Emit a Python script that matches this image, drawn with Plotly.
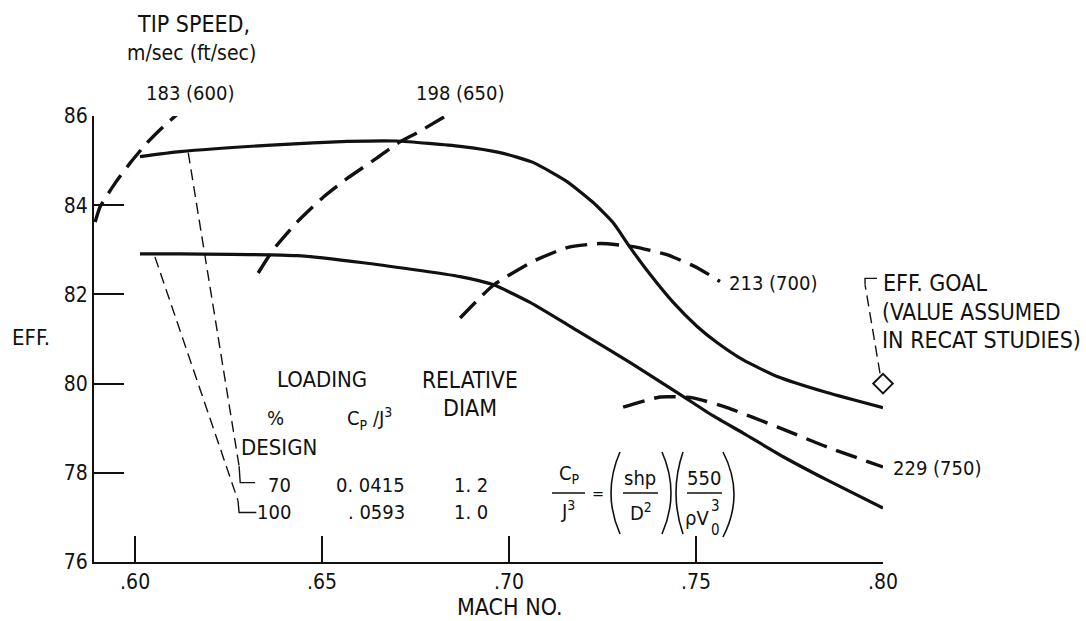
import plotly.graph_objects as go

# ---------------- data ----------------
# Efficiency curves (solid) by loading
mach_load70 = [0.6013, 0.612, 0.6388, 0.6567, 0.670, 0.6869, 0.6976, 0.7064, 0.7155, 0.7225,
               0.7278, 0.7324, 0.7377, 0.7439, 0.7503, 0.7556, 0.7626, 0.7717, 0.785, 0.80]
eff_load70 = [85.09, 85.20, 85.36, 85.43, 85.44, 85.32, 85.18, 84.96, 84.53, 84.06,
              83.61, 83.05, 82.45, 81.82, 81.28, 80.92, 80.53, 80.16, 79.80, 79.46]

mach_load100 = [0.6013, 0.612, 0.6433, 0.661, 0.6869, 0.6957, 0.7056, 0.719, 0.7324, 0.7457,
                0.7545, 0.7626, 0.7733, 0.785, 0.80]
eff_load100 = [82.91, 82.91, 82.87, 82.71, 82.40, 82.22, 81.82, 81.15, 80.47, 79.76,
               79.28, 78.89, 78.36, 77.84, 77.21]

# Tip-speed curves (dashed)
mach_ts183 = [0.5893, 0.5906, 0.5947, 0.5987, 0.6032, 0.6075, 0.6128]
eff_ts183 = [83.62, 83.96, 84.50, 84.95, 85.40, 85.76, 86.15]

mach_ts198 = [0.6329, 0.6369, 0.6433, 0.6503, 0.6567, 0.6647, 0.670, 0.6762, 0.685]
eff_ts198 = [82.48, 83.00, 83.62, 84.18, 84.60, 85.06, 85.38, 85.66, 86.10]

mach_ts213 = [0.6869, 0.6957, 0.7064, 0.7155, 0.7243, 0.7332, 0.7422, 0.7503, 0.7564]
eff_ts213 = [81.47, 82.20, 82.74, 83.05, 83.14, 83.07, 82.89, 82.60, 82.29]

mach_ts229 = [0.7305, 0.7404, 0.7492, 0.7583, 0.7717, 0.785, 0.80]
eff_ts229 = [79.47, 79.70, 79.68, 79.46, 79.03, 78.58, 78.13]

# Efficiency goal
mach_goal = [0.80]
eff_goal = [80.0]

# Leader lines (dashed part) and their end hooks
mach_lead70 = [0.6142, 0.6278]
eff_lead70 = [85.18, 78.15]
mach_hook70 = [0.6278, 0.6281, 0.6321]
eff_hook70 = [78.15, 77.78, 77.78]
mach_lead100 = [0.6053, 0.6275]
eff_lead100 = [82.84, 77.38]
mach_hook100 = [0.6275, 0.6278, 0.6324]
eff_hook100 = [77.38, 77.11, 77.11]
mach_leadgoal = [0.7992, 0.7952]
eff_leadgoal = [80.23, 82.22]
mach_hookgoal = [0.7952, 0.7952, 0.7984]
eff_hookgoal = [82.22, 82.36, 82.36]

# Axis ticks
x_tickvals = [0.60, 0.65, 0.70, 0.75, 0.80]
x_ticktext = [".60", ".65", ".70", ".75", ".80"]
y_tickvals = [76, 78, 80, 82, 84, 86]
y_ticktext = ["76", "78", "80", "82", "84", "86"]

# Legend-table text
load_pct = ["70", "100"]
load_cpj3 = ["0. 0415", ". 0593"]
rel_diam = ["1. 2", "1. 0"]

# ---------------- figure ----------------
FONT = "DejaVu Sans Condensed, Liberation Sans Narrow, Arial Narrow, sans-serif"
BLACK = "#111111"
L, R, T, B = 94, 203, 116, 59
W, H = 1086, 621
PW, PH = W - L - R, H - T - B


def px2paper(px, py):
    return (px - L) / PW, (H - B - py) / PH


def dx(px):
    return 0.589 + (px - L) / PW * (0.80 - 0.589)


def dy(py):
    return 76 + (H - B - py) / PH * 10


fig = go.Figure()

solid = dict(color=BLACK, width=3.2, shape="spline", smoothing=0.5)
dashed = dict(color=BLACK, width=3.4, dash="22px,10px", shape="spline", smoothing=0.5)
thin = dict(color=BLACK, width=1.4, dash="11px,6px")
thin_solid = dict(color=BLACK, width=1.4)

for mx, ey in [(mach_load70, eff_load70), (mach_load100, eff_load100)]:
    fig.add_trace(go.Scatter(x=mx, y=ey, mode="lines", line=solid, cliponaxis=False, hoverinfo="skip"))
for mx, ey in [(mach_ts183, eff_ts183), (mach_ts198, eff_ts198),
               (mach_ts213, eff_ts213), (mach_ts229, eff_ts229)]:
    fig.add_trace(go.Scatter(x=mx, y=ey, mode="lines", line=dashed, cliponaxis=False, hoverinfo="skip"))
for mx, ey in [(mach_lead70, eff_lead70), (mach_lead100, eff_lead100), (mach_leadgoal, eff_leadgoal)]:
    fig.add_trace(go.Scatter(x=mx, y=ey, mode="lines", line=thin, cliponaxis=False, hoverinfo="skip"))
for mx, ey in [(mach_hook70, eff_hook70), (mach_hook100, eff_hook100), (mach_hookgoal, eff_hookgoal)]:
    fig.add_trace(go.Scatter(x=mx, y=ey, mode="lines", line=thin_solid, cliponaxis=False, hoverinfo="skip"))

fig.add_trace(go.Scatter(x=mach_goal, y=eff_goal, mode="markers", cliponaxis=False, hoverinfo="skip",
                         marker=dict(symbol="diamond-open", size=15, color=BLACK,
                                     line=dict(color=BLACK, width=2))))

annotations = []


def txt(text, px, py, size=20, xanchor="center"):
    x, y = px2paper(px, py)
    annotations.append(dict(text=text, x=x, y=y, xref="paper", yref="paper",
                            showarrow=False, xanchor=xanchor, yanchor="middle",
                            font=dict(family=FONT, size=size, color=BLACK)))


txt("TIP SPEED,", 193, 24, size=23)
txt("m/sec (ft/sec)", 191, 53, size=21)
txt("183 (600)", 190, 93)
txt("198 (650)", 460, 93)
txt("213 (700)", 727, 283, xanchor="left")
txt("229 (750)", 891, 468, xanchor="left")
txt("EFF. GOAL", 881, 283, size=23, xanchor="left")
txt("(VALUE ASSUMED", 880, 312, size=22.5, xanchor="left")
txt("IN RECAT STUDIES)", 880, 340, size=23, xanchor="left")
txt("EFF.", 31, 337, size=22)
txt("MACH NO.", 510, 607, size=23)
txt("LOADING", 322, 380, size=22)
txt("RELATIVE", 470, 380, size=22.5)
txt("DIAM", 470, 408, size=23)
txt("%", 275, 418)
txt("C<sub>P</sub> /J<sup>3</sup>", 369, 418)
txt("DESIGN", 239, 447, size=22, xanchor="left")
txt(load_pct[0], 279, 485)
txt(load_pct[1], 274, 512)
txt(load_cpj3[0], 370, 485)
txt(load_cpj3[1], 376, 512)
txt(rel_diam[0], 471, 485)
txt(rel_diam[1], 471, 512)

# formula
txt("C<sub>P</sub>", 569, 474)
txt("J<sup>3</sup>", 568, 510)
txt("=", 598, 493, size=16)
txt("shp", 640, 478)
txt("D<sup>2</sup>", 641, 512)
txt("550", 704, 478)
txt("\u03c1V", 697, 518)
txt("3", 715, 506, size=15)
txt("0", 715, 530, size=15)

shapes = []


def hline(x0, x1, py):
    shapes.append(dict(type="line", xref="x", yref="y", x0=dx(x0), x1=dx(x1), y0=dy(py), y1=dy(py),
                       line=dict(color=BLACK, width=1.6)))


def paren(xt, xm, yt, yb):
    path = "M {},{} Q {},{} {},{}".format(dx(xt), dy(yt), dx(2 * xm - xt), dy((yt + yb) / 2), dx(xt), dy(yb))
    shapes.append(dict(type="path", xref="x", yref="y", path=path, line=dict(color=BLACK, width=1.6)))


hline(552, 585, 493)
hline(623, 658, 493)
hline(687, 722, 493)
paren(620, 611, 452, 534)
paren(662, 671, 452, 534)
paren(683, 676, 452, 534)
paren(723, 734, 452, 537)

fig.update_layout(
    width=W, height=H,
    margin=dict(l=L, r=R, t=T, b=B),
    paper_bgcolor="white", plot_bgcolor="white",
    showlegend=False,
    font=dict(family=FONT, size=20, color=BLACK),
    annotations=annotations,
    shapes=shapes,
    xaxis=dict(range=[0.589, 0.80], showgrid=False, zeroline=False, showline=True,
               linecolor=BLACK, linewidth=2, ticks="inside", ticklen=26, tickwidth=2,
               tickcolor=BLACK, tickvals=x_tickvals, ticktext=x_ticktext,
               tickfont=dict(family=FONT, size=21, color=BLACK)),
    yaxis=dict(range=[76, 86], showgrid=False, zeroline=False, showline=True,
               linecolor=BLACK, linewidth=2, ticks="inside", ticklen=30, tickwidth=2,
               tickcolor=BLACK, tickvals=y_tickvals, ticktext=y_ticktext,
               tickfont=dict(family=FONT, size=21, color=BLACK)),
)

fig.write_html("out.html", config={"displayModeBar": False},
               post_script="document.body.style.margin='0';")
